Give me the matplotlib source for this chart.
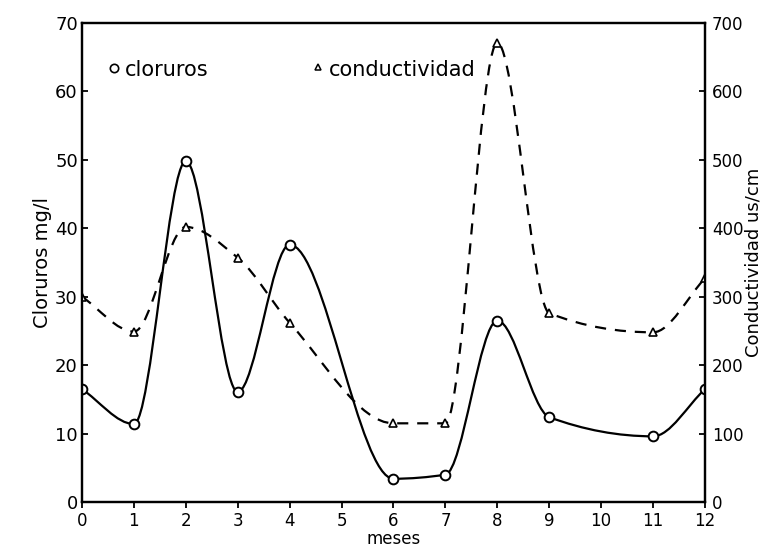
import numpy as np
import matplotlib
matplotlib.use("Agg")
import matplotlib.pyplot as plt
from matplotlib.path import Path
from matplotlib.patches import PathPatch

# data
meses = [0, 1, 2, 3, 4, 6, 7, 8, 9, 11, 12]
cloruros = [16.5, 11.4, 49.8, 16.1, 37.6, 3.4, 4.0, 26.5, 12.4, 9.6, 16.5]
conductividad = [300, 249, 402, 357, 262, 115, 115, 671, 276, 248, 327]


def smooth_path(xs, ys):
    # monotone cubic (Fritsch-Carlson) through the points, as bezier segments
    x = np.asarray(xs, float)
    y = np.asarray(ys, float)
    h = np.diff(x)
    d = np.diff(y) / h
    n = len(x)
    m = np.zeros(n)
    m[0], m[-1] = d[0], d[-1]
    for i in range(1, n - 1):
        if d[i - 1] * d[i] > 0:
            w1 = 2 * h[i] + h[i - 1]
            w2 = h[i] + 2 * h[i - 1]
            m[i] = (w1 + w2) / (w1 / d[i - 1] + w2 / d[i])
    verts = [(x[0], y[0])]
    codes = [Path.MOVETO]
    for i in range(n - 1):
        verts += [(x[i] + h[i] / 3, y[i] + m[i] * h[i] / 3),
                  (x[i + 1] - h[i] / 3, y[i + 1] - m[i + 1] * h[i] / 3),
                  (x[i + 1], y[i + 1])]
        codes += [Path.CURVE4] * 3
    return Path(verts, codes)


plt.rcParams['font.family'] = ['DejaVu Sans']
fig = plt.figure(figsize=(7.62, 5.53), dpi=100)
ax = fig.add_axes([0.1076, 0.0922, 0.8176, 0.8662])
ax2 = ax.twinx()

ax.set_xlim(0, 12)
ax.set_ylim(0, 70)
ax2.set_ylim(0, 700)

ax.add_patch(PathPatch(smooth_path(meses, cloruros), fill=False,
                       lw=1.6, color='black'))
ax.plot(meses, cloruros, 'o', ms=7, mfc='white', mec='black', mew=1.4)

ax2.add_patch(PathPatch(smooth_path(meses, conductividad), fill=False,
                        lw=1.6, color='black', ls=(0, (5, 4))))
ax2.plot(meses, conductividad, '^', ms=6, mfc='white', mec='black', mew=1.2)

ax.set_xticks(range(13))
ax.set_yticks(range(0, 71, 10))
ax2.set_yticks(range(0, 701, 100))
ax.tick_params(axis='x', direction='out', length=4, width=1.3, labelsize=12, pad=3)
ax.tick_params(axis='y', direction='in', length=4, width=1.3, labelsize=13, pad=3)
ax2.tick_params(axis='y', direction='in', length=4, width=1.3, labelsize=12, pad=5)

for a in (ax, ax2):
    for s in a.spines.values():
        s.set_linewidth(1.6)

ax.set_xlabel('meses', fontsize=12, labelpad=0)
ax.set_ylabel('Cloruros mg/l', fontsize=14, labelpad=2)
ax2.set_ylabel('Conductividad us/cm', fontsize=13, labelpad=1)

# legend written in the plot area like the original
ax.plot([0.62], [63.4], 'o', ms=6, mfc='white', mec='black', mew=1.2)
ax.text(0.82, 63.2, 'cloruros', fontsize=15, va='center')
ax.plot([4.55], [63.6], '^', ms=5, mfc='white', mec='black', mew=1.1)
ax.text(4.75, 63.2, 'conductividad', fontsize=15, va='center')

fig.savefig('out.png', dpi=100)
